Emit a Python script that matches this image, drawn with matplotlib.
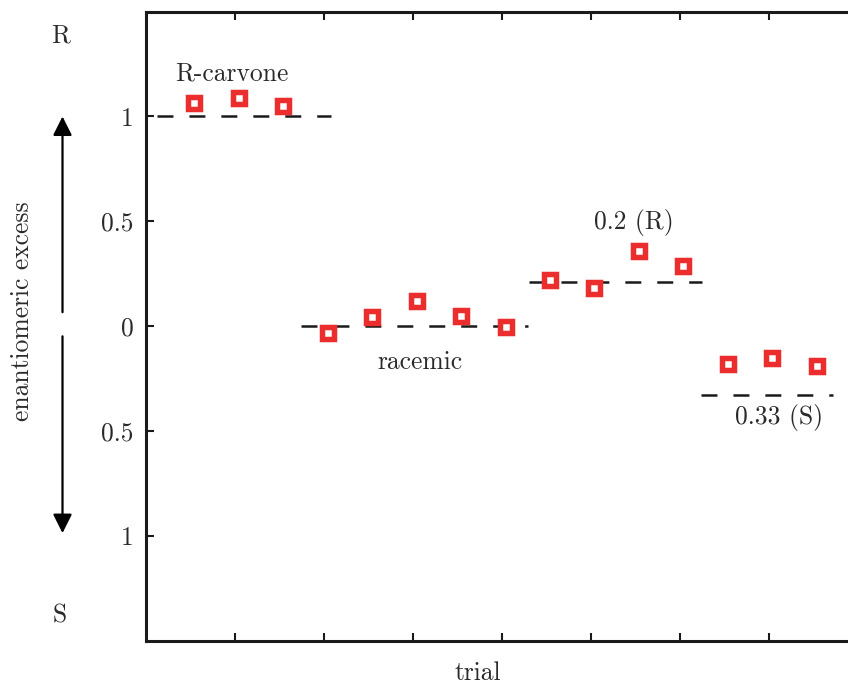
import matplotlib
matplotlib.use("Agg")
import matplotlib.pyplot as plt
import matplotlib.transforms as mtransforms
import numpy as np

# ---- data ----
trials = [1, 2, 3, 4, 5, 6, 7, 8, 9, 10, 11, 12, 13, 14, 15]
ee_values = [1.063, 1.087, 1.049,
             -0.030, 0.043, 0.119, 0.048, -0.003,
             0.222, 0.183, 0.359, 0.286,
             -0.181, -0.149, -0.189]
ref_levels = [1.0, 0.0, 0.21, -0.33]
ref_starts = [0.17, 3.41, 8.52, 12.40]
ref_ends = [4.08, 8.51, 12.41, 15.35]
ref_labels = ["R-carvone", "racemic", "0.2 (R)", "0.33 (S)"]
ref_label_x = [1.85, 6.07, 10.89, 14.15]
ref_label_y = [1.171, -0.205, 0.462, -0.467]
ytick_vals = [1, 0.5, 0, -0.5, -1]
ytick_labels = ["1", "0.5", "0", "0.5", "1"]

plt.rcParams['font.family'] = ['cmr10', 'DejaVu Serif']
plt.rcParams['lines.scale_dashes'] = False

W, H = 848, 686
fig = plt.figure(figsize=(W / 100, H / 100), dpi=100)
ax = fig.add_axes([146 / W, (H - 641) / H, (857 - 146) / W, (641 - 11.5) / H])

txt_color = '#2a2a2a'
red = '#ec2d2d'

for y, x0, x1 in zip(ref_levels, ref_starts, ref_ends):
    ax.plot([x0, x1], [y, y], color='#1a1a1a', lw=1.8, dashes=(11.5, 11.5), zorder=2)

ax.plot(trials, ee_values, linestyle='none', marker='s', ms=8.25, mew=3.95,
        mfc='white', mec=red, zorder=3)

for lab, x, y in zip(ref_labels, ref_label_x, ref_label_y):
    ax.text(x, y, lab, ha='center', va='baseline', fontsize=18.4, color=txt_color)

ax.set_xlim(-0.08, 15.9)
ax.set_ylim(-1.5, 1.5)
ax.set_xticks(np.arange(2, 16, 2) - 0.08)
ax.set_xticklabels([])
ax.set_yticks(ytick_vals)
ax.set_yticklabels(ytick_labels)
ax.tick_params(axis='both', direction='in', length=6, width=1.5, colors='#1a1a1a',
               top=True, right=True, labelsize=18.4, labelcolor=txt_color, pad=9)
for s in ax.spines.values():
    s.set_linewidth(2.2)
    s.set_color('#1a1a1a')

# R / S markers and arrows on the left
blend = mtransforms.blended_transform_factory(fig.transFigure, ax.transData)
ax_x = 62.5 / W
ax.text(61 / W, 1.354, "R", transform=blend, ha='center', va='baseline',
        fontsize=18.4, color=txt_color, clip_on=False)
ax.text(60 / W, -1.414, "S", transform=blend, ha='center', va='baseline',
        fontsize=18.4, color=txt_color, clip_on=False)
arrow_style = dict(arrowstyle='-|>,head_length=0.8,head_width=0.4', mutation_scale=14.4,
                   lw=1.6, color='black', shrinkA=0, shrinkB=0)
ax.annotate('', xy=(ax_x, 1.0), xytext=(ax_x, 0.067), xycoords=blend, textcoords=blend,
            arrowprops=arrow_style, annotation_clip=False)
ax.annotate('', xy=(ax_x, -0.986), xytext=(ax_x, -0.048), xycoords=blend, textcoords=blend,
            arrowprops=arrow_style, annotation_clip=False)

fig.text(22 / W, 1 - 311 / H, "enantiomeric excess", rotation=90, ha='center', va='center',
         fontsize=18.4, color=txt_color)
fig.text(478 / W, 1 - 680 / H, "trial", ha='center', va='baseline',
         fontsize=18.4, color=txt_color)

fig.savefig('out.png', dpi=100)
